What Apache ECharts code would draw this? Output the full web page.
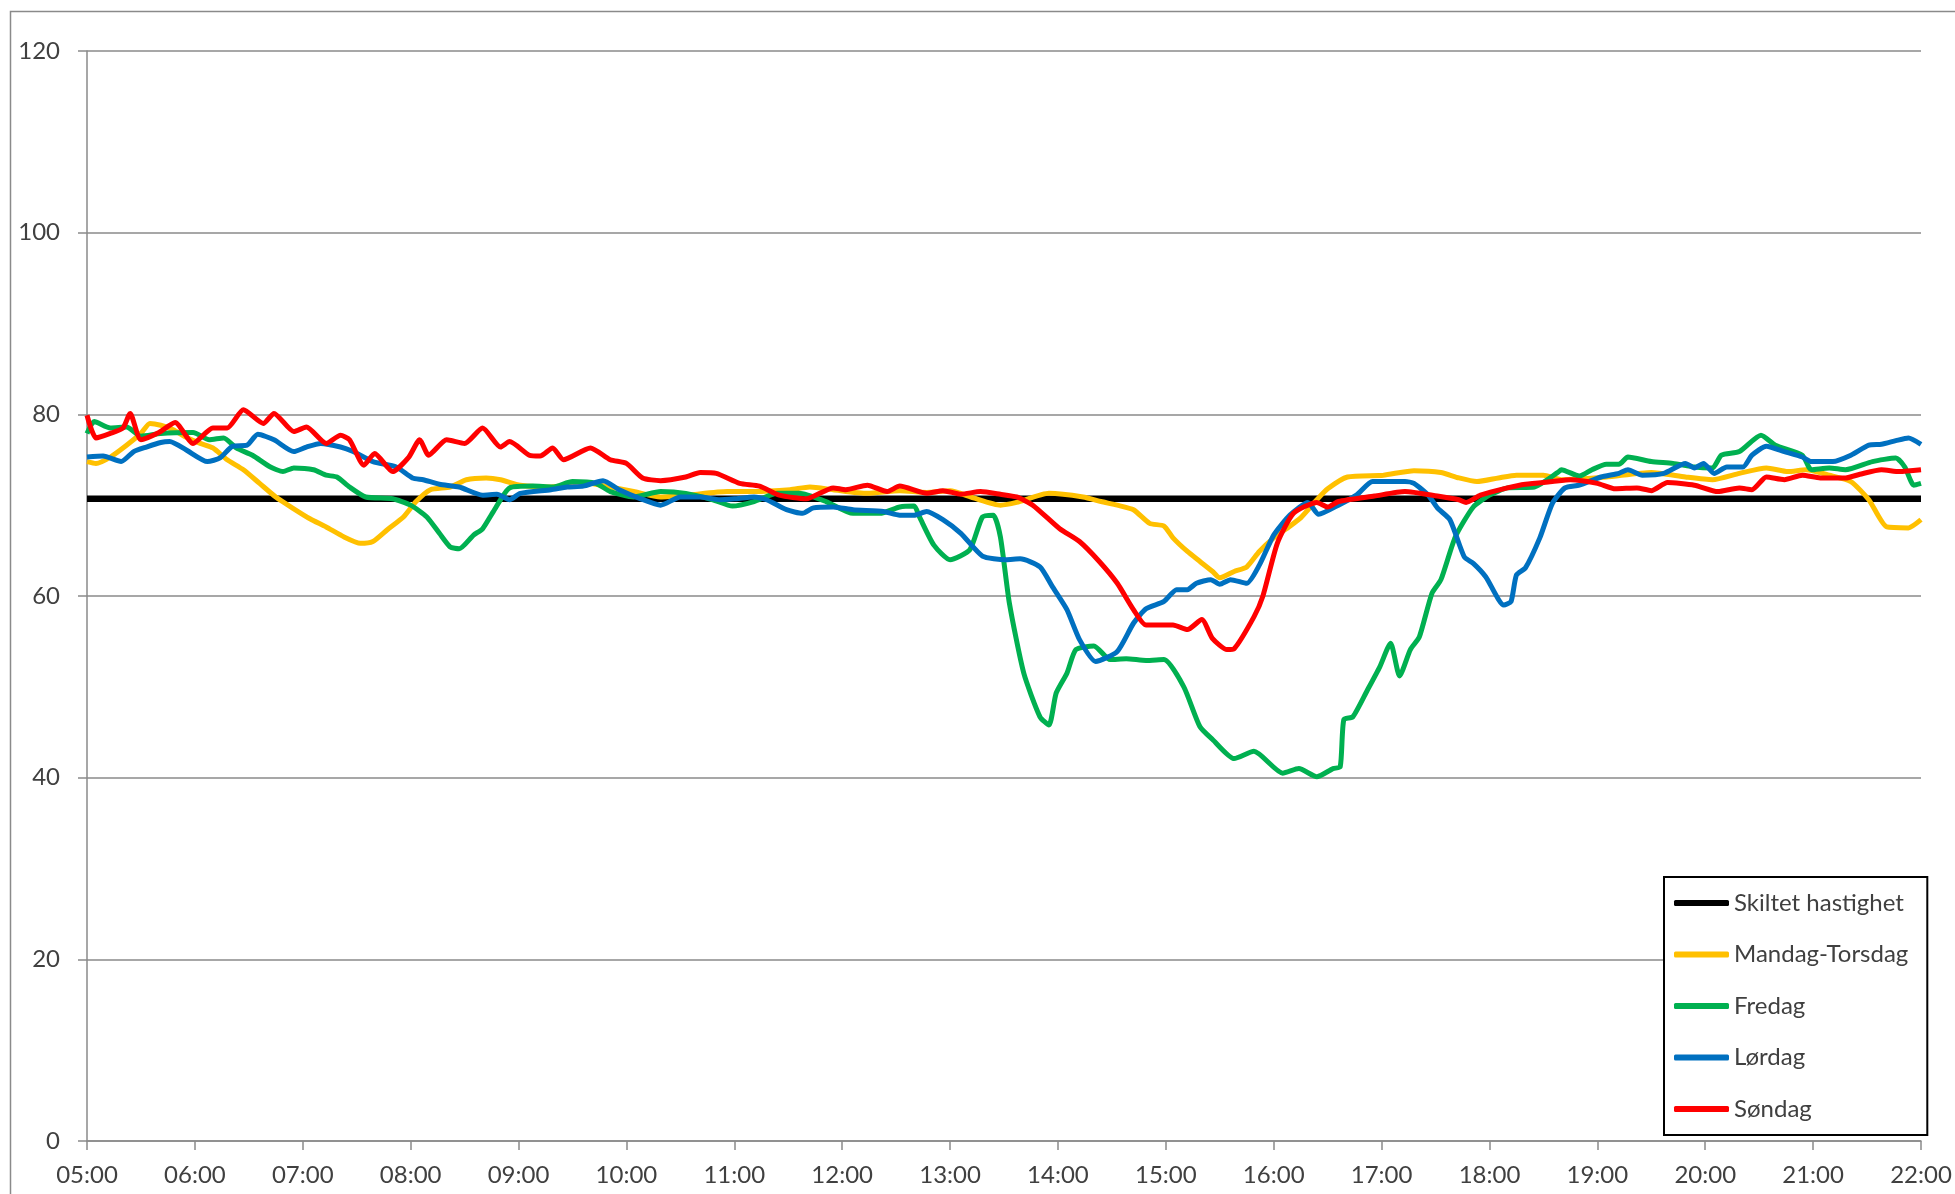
<!DOCTYPE html>
<html><head><meta charset="utf-8">
<script src="https://cdn.jsdelivr.net/npm/echarts@6/dist/echarts.min.js"></script>
<style>html,body{margin:0;padding:0;background:#fff}#c{width:1955px;height:1194px}</style>
</head><body><div id="c"></div>
<script>
// ---- data (times in minutes after 05:00) ----
const hourLabels = ['05:00','06:00','07:00','08:00','09:00','10:00','11:00','12:00','13:00','14:00','15:00','16:00','17:00','18:00','19:00','20:00','21:00','22:00'];
const yTickValues = [0,20,40,60,80,100,120];
const seriesNames = ['Skiltet hastighet','Mandag-Torsdag','Fredag','Lørdag','Søndag'];
const speedLimit = 70.7;

const monThuTimes = [0,5,13,22,30,35,41,48,55,63,70,78,87,96,105,115,124,133,143,152,159,167,176,183,191,202,211,222,230,241,258,276,291,304,319,334,356,371,391,402,415,434,452,467,480,493,508,517,535,554,564,573,582,591,599,604,612,619,626,630,638,645,652,660,667,675,684,690,701,721,738,753,763,773,785,795,810,820,845,870,889,904,919,934,946,956,969,981,991,1001,1013,1020];
const monThuVals  = [74.8,74.6,75.3,76.6,77.9,79.0,78.8,78.3,77.5,76.8,76.3,75.0,73.9,72.4,70.9,69.6,68.5,67.6,66.5,65.8,66.0,67.3,68.7,70.4,71.7,72.0,72.8,73.0,72.8,72.2,72.0,72.5,72.0,71.5,70.9,71.1,71.5,71.5,71.7,72.0,71.7,71.3,71.6,71.4,71.6,70.8,70.0,70.3,71.3,70.9,70.4,70.0,69.5,68.0,67.7,66.4,64.9,63.8,62.7,62.0,62.7,63.2,64.9,66.4,67.4,68.6,70.6,71.8,73.1,73.3,73.8,73.6,73.0,72.6,73.0,73.3,73.3,72.8,73.1,73.6,73.1,72.8,73.5,74.1,73.7,73.9,73.3,72.6,70.6,67.6,67.5,68.4];

const friTimes = [0,4,13,22,30,41,59,68,76,83,92,102,109,115,126,133,139,146,155,170,180,189,196,202,207,215,220,226,235,248,259,270,283,291,304,319,333,348,359,371,384,396,411,426,441,452,460,463,471,480,491,498,504,508,513,521,530,535,539,545,550,560,569,578,589,599,610,619,626,638,649,665,674,684,693,697,699,704,712,719,725,730,736,741,748,753,761,771,780,790,805,818,820,830,837,845,852,857,870,882,894,904,909,919,931,939,954,959,969,978,993,1006,1011,1016,1020];
const friVals  = [77.9,79.2,78.5,78.6,77.6,77.9,78.0,77.2,77.4,76.3,75.5,74.2,73.7,74.1,73.9,73.3,73.1,72.0,70.9,70.7,70.0,68.7,66.9,65.4,65.2,66.7,67.4,69.3,71.9,72.1,72.0,72.6,72.4,71.5,70.9,71.5,71.3,70.6,69.9,70.4,71.3,71.3,70.4,69.1,69.1,69.8,69.9,68.7,65.6,64.0,65.1,68.7,68.9,66.5,59.2,51.5,46.7,45.8,49.3,51.5,54.1,54.5,53.0,53.1,52.9,53.0,50.0,45.6,44.2,42.1,42.9,40.5,41.0,40.1,41.0,41.2,46.4,46.7,49.6,52.2,54.8,51.2,54.1,55.5,60.3,61.8,66.5,69.8,71.1,71.9,72.0,73.6,73.9,73.2,73.9,74.5,74.5,75.3,74.8,74.6,74.2,74.1,75.5,75.9,77.7,76.6,75.5,73.9,74.1,73.9,74.8,75.2,74.2,72.2,72.4];

const satTimes = [0,9,19,26,33,41,46,55,67,74,81,89,95,104,115,122,130,141,148,159,172,181,187,196,207,220,228,235,241,258,267,276,287,296,308,319,330,341,352,360,371,378,389,398,404,415,426,443,452,460,467,476,486,498,511,519,530,537,545,552,561,573,582,589,599,606,612,617,625,630,636,645,652,660,669,679,685,696,706,715,733,738,746,751,758,766,771,778,788,792,795,800,808,815,822,830,842,852,857,865,877,889,894,899,905,912,921,926,934,944,954,959,971,981,991,998,1006,1013,1020];
const satVals  = [75.3,75.4,74.8,75.9,76.4,76.9,77.0,76.1,74.8,75.2,76.5,76.6,77.8,77.2,75.9,76.4,76.8,76.4,75.9,74.8,74.2,73.0,72.8,72.3,72.0,71.1,71.2,70.6,71.3,71.7,72.0,72.1,72.7,71.7,70.7,70.0,70.9,70.9,70.6,70.7,70.9,70.6,69.5,69.1,69.7,69.8,69.5,69.3,68.9,68.9,69.3,68.4,66.9,64.4,64.0,64.1,63.2,61.0,58.5,55.2,52.8,53.9,57.0,58.6,59.4,60.7,60.7,61.4,61.8,61.3,61.8,61.4,63.4,66.7,68.9,70.3,69.0,70.0,71.1,72.6,72.6,72.4,71.1,69.7,68.4,64.3,63.6,62.1,59.0,59.4,62.3,63.1,66.4,70.2,71.9,72.2,73.1,73.5,73.9,73.3,73.5,74.6,74.1,74.6,73.5,74.2,74.2,75.5,76.5,75.9,75.3,74.8,74.8,75.5,76.6,76.7,77.1,77.4,76.7];

const sunTimes = [0,5,13,20,24,30,40,49,59,70,78,87,98,104,115,122,133,141,146,154,160,170,179,185,190,200,210,220,230,235,246,252,259,265,280,291,300,309,319,333,341,350,363,374,385,400,415,422,434,445,452,467,476,486,497,508,517,526,541,552,563,573,582,589,604,612,620,626,634,638,649,654,662,671,684,690,696,716,733,751,763,767,775,790,800,815,825,840,850,862,870,879,894,907,919,926,934,944,954,964,978,986,998,1008,1020];
const sunVals  = [79.9,77.4,77.9,78.5,80.1,77.2,78.0,79.1,76.8,78.5,78.5,80.5,79.0,80.1,78.1,78.6,76.8,77.7,77.2,74.4,75.7,73.7,75.3,77.2,75.5,77.2,76.8,78.5,76.4,77.0,75.5,75.4,76.3,75.0,76.3,75.0,74.6,73.0,72.7,73.1,73.6,73.5,72.4,72.1,71.1,70.7,71.9,71.7,72.2,71.5,72.1,71.3,71.6,71.2,71.5,71.2,70.9,70.0,67.4,66.0,63.8,61.4,58.5,56.8,56.8,56.3,57.4,55.3,54.1,54.2,57.7,60.0,65.8,69.1,70.3,69.8,70.4,71.0,71.5,71.0,70.6,70.3,71.1,71.9,72.3,72.6,72.8,72.4,71.8,71.9,71.6,72.5,72.2,71.5,71.9,71.7,73.1,72.8,73.3,73.0,73.0,73.4,73.9,73.7,73.9];

// ---- build ----
function pairs(times, vals){ return times.map((t,i)=>[5 + t/60, vals[i]]); }
const FONT = 'Lato';
const TXT = '#404040';
const GRID = '#8a8a8a';
const colors = ['#000000','#FFC000','#00B050','#0070C0','#FF0000'];
const seriesData = [
  [[5, speedLimit],[22, speedLimit]],
  pairs(monThuTimes, monThuVals),
  pairs(friTimes, friVals),
  pairs(satTimes, satVals),
  pairs(sunTimes, sunVals)
];

const chart = echarts.init(document.getElementById('c'), null, {renderer:'canvas'});
chart.setOption({
  animation: false,
  backgroundColor: '#ffffff',
  color: colors,
  graphic: [{
    type: 'rect', left: 8, top: 9, silent: true, z: -1,
    shape: {width: 2100, height: 1400},
    style: {fill: 'none', stroke: GRID, lineWidth: 1.5}
  }],
  grid: {left: 87, top: 51, width: 1834, height: 1090},
  xAxis: {
    type: 'value', min: 5, max: 22, interval: 1,
    axisLine: {show: true, lineStyle: {color: GRID, width: 1.5}},
    axisTick: {show: true, inside: false, length: 9, lineStyle: {color: GRID, width: 1.5}},
    splitLine: {show: false},
    axisLabel: {margin: 22, fontFamily: FONT, fontSize: 24, color: TXT,
      formatter: v => hourLabels[Math.round(v) - 5] || ''}
  },
  yAxis: {
    type: 'value', min: yTickValues[0], max: yTickValues[yTickValues.length-1], interval: 20,
    axisLine: {show: true, lineStyle: {color: GRID, width: 1.5}},
    axisTick: {show: true, inside: false, length: 9, lineStyle: {color: GRID, width: 1.5}},
    splitLine: {show: true, lineStyle: {color: GRID, width: 1.5}},
    axisLabel: {margin: 27, fontFamily: FONT, fontSize: 24, color: TXT}
  },
  legend: {
    orient: 'vertical', left: 1664, top: 877,
    padding: [13, 19, 13, 10], itemGap: 25.5,
    itemWidth: 55, itemHeight: 6,
    backgroundColor: '#ffffff', borderColor: '#000000', borderWidth: 2, borderRadius: 0,
    textStyle: {fontFamily: FONT, fontSize: 24, color: TXT, lineHeight: 26},
    data: seriesNames.map((n,i)=>({name: n, icon: 'roundRect'}))
  },
  series: seriesNames.map((n,i)=>({
    name: n, type: 'line', data: seriesData[i],
    showSymbol: false, symbol: 'none',
    smooth: i === 0 ? false : 0.2,
    lineStyle: {color: colors[i], width: i === 0 ? 6.5 : 5},
    itemStyle: {color: colors[i]},
    z: 2 + i
  }))
});
</script></body></html>
